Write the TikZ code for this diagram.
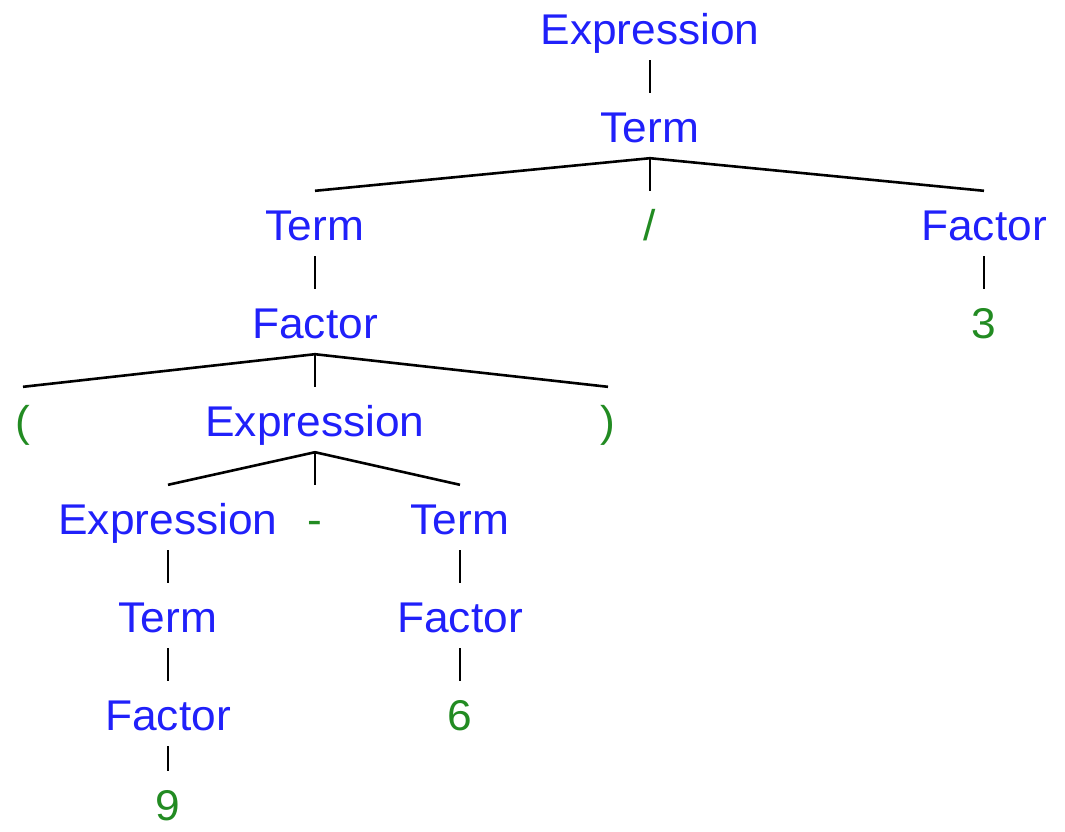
\documentclass[tikz,border=0pt]{standalone}
\usepackage{fontspec}
\newfontfamily\lab[FakeStretch=1.03]{Liberation Sans}
\definecolor{ntblue}{RGB}{32,32,250}
\definecolor{tgreen}{RGB}{34,139,34}
\tikzset{
  lbl/.style={inner sep=0pt, text height=49pt, text depth=16pt, anchor=base,
    font=\lab\fontsize{43}{50}\selectfont},
  nt/.style={lbl, text=ntblue},
  tm/.style={lbl, text=tgreen},
  edge/.style={draw=black, line width=2.6pt},
}
\begin{document}
\begin{tikzpicture}[x=1pt,y=-1pt]
\useasboundingbox (0,0) rectangle (1065,831);
\node[nt] (e0) at (650,44) {Expression};
\node[nt] (t0) at (650,142) {Term};
\node[nt] (t1) at (315,240) {Term};
\node[tm] (sl) at (650,240) {/};
\node[nt] (f1) at (984,240) {Factor};
\node[nt] (f2) at (315,338) {Factor};
\node[tm] (n3) at (984,338) {3};
\node[tm] (lp) at (23,436) {(};
\node[nt] (e1) at (315,436) {Expression};
\node[tm] (rp) at (608,436) {)};
\node[nt] (e2) at (168,534) {Expression};
\node[tm] (mi) at (315,534) {-};
\node[nt] (t2) at (460,534) {Term};
\node[nt] (t3) at (168,632) {Term};
\node[nt] (f3) at (460,632) {Factor};
\node[nt] (f4) at (168,730) {Factor};
\node[tm] (n6) at (460,730) {6};
\node[tm, text depth=1pt] (n9) at (168,820) {9};
\draw[edge] (e0.south) -- (t0.north);
\draw[edge] (t0.south) -- (t1.north);
\draw[edge] (t0.south) -- (sl.north);
\draw[edge] (t0.south) -- (f1.north);
\draw[edge] (t1.south) -- (f2.north);
\draw[edge] (f1.south) -- (n3.north);
\draw[edge] (f2.south) -- (lp.north);
\draw[edge] (f2.south) -- (e1.north);
\draw[edge] (f2.south) -- (rp.north);
\draw[edge] (e1.south) -- (e2.north);
\draw[edge] (e1.south) -- (mi.north);
\draw[edge] (e1.south) -- (t2.north);
\draw[edge] (e2.south) -- (t3.north);
\draw[edge] (t2.south) -- (f3.north);
\draw[edge] (t3.south) -- (f4.north);
\draw[edge] (f3.south) -- (n6.north);
\draw[edge] (f4.south) -- (n9.north);
\end{tikzpicture}
\end{document}
